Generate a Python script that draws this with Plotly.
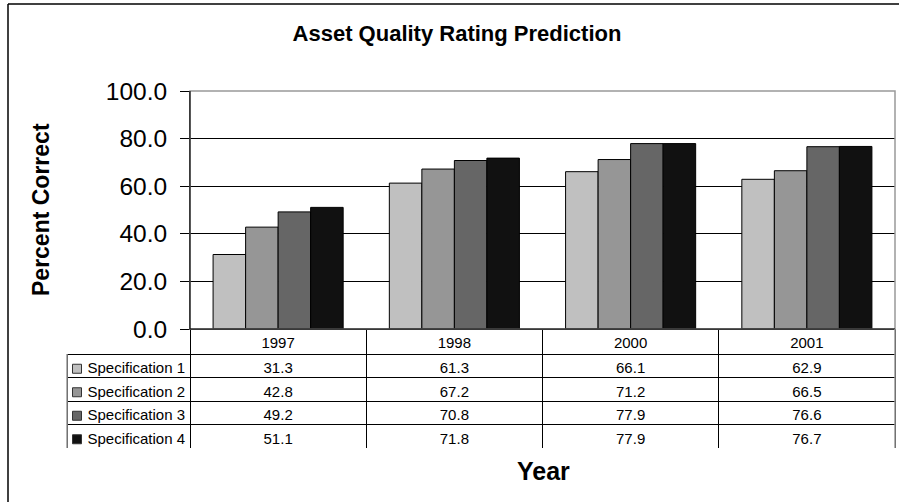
import plotly.graph_objects as go

# ---- data ----
years = ["1997", "1998", "2000", "2001"]
series_names = ["Specification 1", "Specification 2", "Specification 3", "Specification 4"]
spec1 = [31.3, 61.3, 66.1, 62.9]
spec2 = [42.8, 67.2, 71.2, 66.5]
spec3 = [49.2, 70.8, 77.9, 76.6]
spec4 = [51.1, 71.8, 77.9, 76.7]
series_values = [spec1, spec2, spec3, spec4]
colors = ["#c0c0c0", "#969696", "#666666", "#111111"]
y_ticks = [0, 20, 40, 60, 80, 100]

# ---- geometry (pixels) ----
W, H = 899, 502
paper_left, paper_right = 67, 895
paper_top, paper_bottom = 91, 448
plot_left = 190
plot_bottom = 329
header_h = 25
row_h = 23.5
pw = paper_right - paper_left
ph = paper_bottom - paper_top


def px_x(p):
    return (p - paper_left) / pw


def px_y(p):
    return (paper_bottom - p) / ph


FONT = "Liberation Sans, Arial, sans-serif"
NB = "\u00a0"

fig = go.Figure()
for name, vals, col in zip(series_names, series_values, colors):
    fig.add_trace(go.Bar(
        x=years, y=vals, name=name,
        marker=dict(color=col, line=dict(color="#000000", width=1)),
        xaxis="x", yaxis="y", showlegend=False, hoverinfo="x+y+name",
    ))

# data table under the chart
legend_col = [NB * 3 + n.replace(" ", NB) for n in series_names]
value_cols = [[f"{series_values[s][i]:.1f}" for s in range(len(series_names))]
              for i in range(len(years))]
cat_w = (paper_right - plot_left) / len(years)
fig.add_trace(go.Table(
    domain=dict(x=[0, 1], y=[0, px_y(plot_bottom)]),
    columnwidth=[plot_left - paper_left] + [cat_w] * len(years),
    header=dict(
        values=[""] + years,
        height=header_h,
        align="center",
        fill=dict(color=["rgba(0,0,0,0)"] + ["white"] * len(years)),
        line=dict(color=["rgba(0,0,0,0)"] + ["#000000"] * len(years), width=1),
        font=dict(family=FONT, size=15, color="#000000"),
    ),
    cells=dict(
        values=[legend_col] + value_cols,
        height=row_h,
        align=["left"] + ["center"] * len(years),
        fill=dict(color="white"),
        line=dict(color="#000000", width=1),
        font=dict(family=FONT, size=15, color="#000000"),
    ),
))

# legend key squares in the table's first column
key_shapes = []
for i, col in enumerate(colors):
    cy = plot_bottom + header_h + row_h * (i + 0.5) + 3
    key_shapes.append(dict(
        type="rect", xref="paper", yref="paper",
        x0=px_x(72.5), x1=px_x(81.5), y0=px_y(cy + 4.5), y1=px_y(cy - 4.5),
        fillcolor=col, line=dict(color="#333333", width=1), layer="above",
    ))

fig.update_layout(
    width=W, height=H,
    margin=dict(l=paper_left, r=W - paper_right, t=paper_top, b=H - paper_bottom, pad=0),
    paper_bgcolor="white", plot_bgcolor="white",
    barmode="group", bargap=0.262, bargroupgap=0,
    font=dict(family=FONT, color="#000000"),
    title=dict(
        text="<b>Asset Quality Rating Prediction</b>",
        x=457 / W, xref="container", xanchor="center",
        y=1 - 33 / H, yref="container", yanchor="middle",
        font=dict(family=FONT, size=22, color="#000000"),
    ),
    xaxis=dict(
        domain=[px_x(plot_left), 1], type="category", range=[-0.5, len(years) - 0.5],
        showticklabels=False, ticks="", showgrid=False, zeroline=False,
        showline=True, linecolor="#000000", linewidth=1, anchor="y",
    ),
    yaxis=dict(
        domain=[px_y(plot_bottom), 1], range=[0, 100], tickvals=y_ticks,
        tickformat=".1f", ticks="outside", ticklen=9, tickcolor="#000000",
        ticklabelstandoff=8,
        tickfont=dict(family=FONT, size=24.5, color="#000000"),
        showgrid=True, gridcolor="#000000", gridwidth=1, zeroline=False,
        showline=True, linecolor="#000000", linewidth=1, anchor="x",
    ),
    annotations=[
        dict(text="<b>Percent Correct</b>", textangle=-90,
             xref="paper", yref="paper", x=px_x(41), y=px_y(210),
             xanchor="center", yanchor="middle", showarrow=False,
             font=dict(family=FONT, size=23, color="#000000")),
        dict(text="<b>Year</b>",
             xref="paper", yref="paper", x=px_x(543), y=px_y(471),
             xanchor="center", yanchor="middle", showarrow=False,
             font=dict(family=FONT, size=25, color="#000000")),
    ],
    shapes=[
        # plot-area border (grey top/right edges)
        dict(type="rect", xref="x domain", yref="y domain", x0=0, x1=1, y0=0, y1=1,
             line=dict(color="#999999", width=1.5), layer="above"),
        dict(type="line", xref="x domain", yref="y domain", x0=0, x1=0, y0=0, y1=1,
             line=dict(color="#000000", width=1), layer="above"),
        dict(type="line", xref="x domain", yref="y domain", x0=0, x1=1, y0=0, y1=0,
             line=dict(color="#000000", width=1), layer="above"),
        # grey right edge of table and left edge of legend column
        dict(type="line", xref="paper", yref="paper", x0=1, x1=1,
             y0=0, y1=px_y(plot_bottom),
             line=dict(color="#999999", width=1.5), layer="above"),
        dict(type="line", xref="paper", yref="paper", x0=0, x1=0,
             y0=0, y1=px_y(plot_bottom + header_h),
             line=dict(color="#999999", width=1.5), layer="above"),
        # outer chart border (only left and top edges fall inside the view)
        dict(type="line", xref="paper", yref="paper",
             x0=px_x(8), x1=px_x(8), y0=px_y(520), y1=px_y(4),
             line=dict(color="#000000", width=1.5), layer="below"),
        dict(type="line", xref="paper", yref="paper",
             x0=px_x(8), x1=px_x(920), y0=px_y(4), y1=px_y(4),
             line=dict(color="#000000", width=1.5), layer="below"),
    ] + key_shapes,
)

fig.write_html("out.html", config={"displayModeBar": False},
               post_script="document.body.style.margin='0px';")
